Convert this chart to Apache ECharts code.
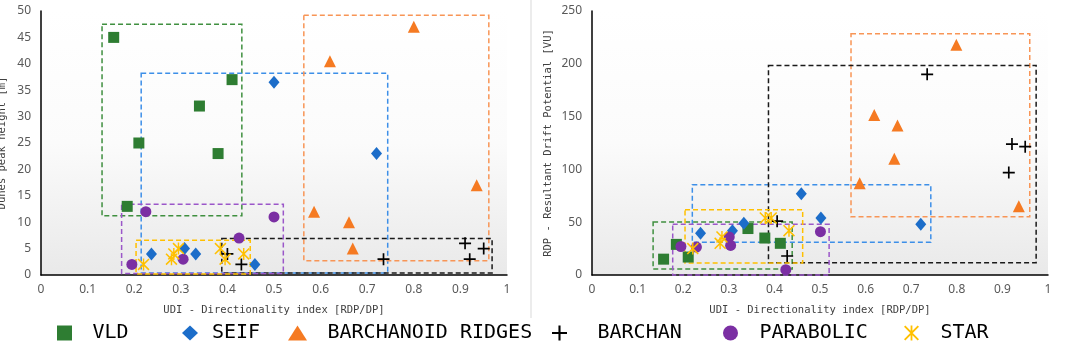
<!DOCTYPE html>
<html>
<head>
<meta charset="utf-8">
<script src="https://cdn.jsdelivr.net/npm/echarts@6/dist/echarts.min.js"></script>
<style>
  html, body { margin: 0; padding: 0; background: #fff; }
  #main { width: 1065px; height: 344px; }
</style>
</head>
<body>
<div id="main"></div>
<script>
// ---- data ----
let seriesNames = ['VLD', 'SEIF', 'BARCHANOID RIDGES', 'BARCHAN', 'PARABOLIC', 'STAR'];
let xTicks = [0, 0.1, 0.2, 0.3, 0.4, 0.5, 0.6, 0.7, 0.8, 0.9, 1];
let heightTicks = [0, 5, 10, 15, 20, 25, 30, 35, 40, 45, 50];
let rdpTicks = [0, 50, 100, 150, 200, 250];

// left panel: UDI vs dunes peak height [m]
let vldUdiH = [0.156, 0.41, 0.34, 0.21, 0.38, 0.185];
let vldHeight = [45, 37, 32, 25, 23, 13];
let seifUdiH = [0.50, 0.72, 0.237, 0.308, 0.332, 0.459];
let seifHeight = [36.5, 23, 4, 5, 4, 2];
let ridgeUdiH = [0.80, 0.62, 0.935, 0.586, 0.661, 0.669];
let ridgeHeight = [47, 40.5, 17, 12, 10, 5];
let barchanUdiH = [0.40, 0.43, 0.735, 0.91, 0.95, 0.92];
let barchanHeight = [4, 2, 3, 6, 5, 3];
let paraUdiH = [0.225, 0.50, 0.425, 0.195, 0.305];
let paraHeight = [12, 11, 7, 2, 3];
let starUdiH = [0.22, 0.28, 0.285, 0.295, 0.385, 0.395, 0.435];
let starHeight = [2, 3, 4, 5, 5, 3, 4];

// right panel: UDI vs RDP [VU]
let vldUdiR = [0.157, 0.185, 0.211, 0.342, 0.379, 0.413];
let vldRdp = [15, 29, 17, 44, 35, 30];
let seifUdiR = [0.238, 0.308, 0.333, 0.459, 0.502, 0.721];
let seifRdp = [39.5, 42, 49, 77, 54, 48];
let ridgeUdiR = [0.799, 0.619, 0.670, 0.663, 0.587, 0.936];
let ridgeRdp = [218, 151.5, 141.5, 110, 87, 65];
let barchanUdiR = [0.735, 0.921, 0.950, 0.914, 0.406, 0.428];
let barchanRdp = [190, 124, 121.5, 97, 51, 18];
let paraUdiR = [0.195, 0.229, 0.301, 0.304, 0.501, 0.425];
let paraRdp = [27, 26.5, 36, 28, 41, 5];
let starUdiR = [0.221, 0.281, 0.285, 0.38, 0.393, 0.432];
let starRdp = [25, 30, 36, 54, 54, 42];

// dashed range boxes [udiMin, udiMax, valueMin, valueMax]
let boxesHeight = [
    [0.131, 0.431, 11.2, 47.5],
    [0.215, 0.744, 0.4, 38.2],
    [0.564, 0.961, 2.7, 49.2],
    [0.388, 0.968, 0.4, 6.9],
    [0.173, 0.52, 0.3, 13.4],
    [0.204, 0.449, 0.2, 6.6]
];
let boxesRdp = [
    [0.134, 0.439, 5.7, 50.2],
    [0.22, 0.743, 31, 85.5],
    [0.568, 0.960, 55.2, 228.5],
    [0.387, 0.974, 11.7, 198.5],
    [0.177, 0.52, 0, 48],
    [0.204, 0.462, 11.4, 61.9]
];

// ---- styles ----
let markerColors = ['#2E7D32', '#1C6DC9', '#F57A22', '#000000', '#7B2FA3', '#FFC000'];
let boxColors = ['#3F8F3F', '#3D8FE8', '#F89556', '#1A1A1A', '#9B57C9', '#FFC000'];
let plusPath = 'path://M4.3,0 L5.7,0 L5.7,4.3 L10,4.3 L10,5.7 L5.7,5.7 L5.7,10 L4.3,10 L4.3,5.7 L0,5.7 L0,4.3 L4.3,4.3 Z';
let starPath = 'path://M0,0.9 L0.9,0 L10,9.1 L9.1,10 Z M9.1,0 L10,0.9 L0.9,10 L0,9.1 Z M4.4,0 L5.6,0 L5.6,10 L4.4,10 Z';
let symbols = ['rect', 'diamond', 'triangle', plusPath, 'circle', starPath];
let symbolSizes = [11, [11, 13], 12, 12, 11, 12];
// legend icons as paths so they keep their aspect ratio
let legendIcons = [
    'path://M0,0 L10,0 L10,10 L0,10 Z',
    'path://M8,0 L16,7.5 L8,15 L0,7.5 Z',
    'path://M9.5,0 L19,15 L0,15 Z',
    plusPath,
    'path://M5,0 A5,5 0 1,1 4.99,0 Z',
    starPath
];
let legendLefts = [52, 177, 283, 547, 718, 899];
let legendWidths = [46, 34, 50, 66, 48, 48];
let monoFont = '"DejaVu Sans Mono", monospace';

function zip(xs, ys) {
    return xs.map((x, i) => [x, ys[i]]);
}

let leftData = [
    zip(vldUdiH, vldHeight), zip(seifUdiH, seifHeight), zip(ridgeUdiH, ridgeHeight),
    zip(barchanUdiH, barchanHeight), zip(paraUdiH, paraHeight), zip(starUdiH, starHeight)
];
let rightData = [
    zip(vldUdiR, vldRdp), zip(seifUdiR, seifRdp), zip(ridgeUdiR, ridgeRdp),
    zip(barchanUdiR, barchanRdp), zip(paraUdiR, paraRdp), zip(starUdiR, starRdp)
];

function makeSeries(idx, data, box, axisIndex) {
    return {
        name: seriesNames[idx],
        type: 'scatter',
        xAxisIndex: axisIndex,
        yAxisIndex: axisIndex,
        symbol: symbols[idx],
        symbolSize: symbolSizes[idx],
        itemStyle: { color: markerColors[idx], opacity: 1 },
        emphasis: { disabled: true },
        data: data,
        markArea: { //范围虚线框
            silent: true,
            itemStyle: {
                color: 'transparent',
                borderColor: boxColors[idx],
                borderWidth: 1.5,
                borderType: [5, 3]
            },
            emphasis: { disabled: true },
            label: { show: false },
            data: [[{ coord: [box[0], box[3]] }, { coord: [box[1], box[2]] }]]
        }
    };
}

let series = [];
for (let i = 0; i < seriesNames.length; i++) {
    series.push(makeSeries(i, leftData[i], boxesHeight[i], 0));
    series.push(makeSeries(i, rightData[i], boxesRdp[i], 1));
}

// one legend per item so spacing follows the picture
let legends = seriesNames.map((name, i) => ({
    data: [{ name: name, icon: legendIcons[i] }],
    left: legendLefts[i],
    top: 318,
    itemWidth: legendWidths[i],
    itemHeight: 15,
    symbolKeepAspect: true,
    selectedMode: false,
    textStyle: { fontFamily: monoFont, fontSize: 20, color: '#000' }
}));

let plotBg = new echarts.graphic.LinearGradient(0, 0, 0, 1, [
    { offset: 0, color: '#ffffff' },
    { offset: 0.5, color: '#fbfbfb' },
    { offset: 1, color: '#e9e9e9' }
]);

function xAxisDef(gridIndex) {
    return {
        type: 'value',
        gridIndex: gridIndex,
        min: xTicks[0],
        max: xTicks[xTicks.length - 1],
        interval: xTicks[1] - xTicks[0],
        name: 'UDI - Directionality index [RDP/DP]',
        nameLocation: 'middle',
        nameGap: 30,
        nameTextStyle: { fontFamily: monoFont, fontSize: 10.5, color: '#404040' },
        axisLine: { show: true, lineStyle: { color: '#000', width: 1.5 } },
        axisTick: { show: false },
        splitLine: { show: false },
        axisLabel: { margin: 9, color: '#595959', fontFamily: '"Noto Sans", sans-serif', fontSize: 12 }
    };
}

function yAxisDef(gridIndex, ticks, name, gap) {
    return {
        type: 'value',
        gridIndex: gridIndex,
        min: ticks[0],
        max: ticks[ticks.length - 1],
        interval: ticks[1] - ticks[0],
        name: name,
        nameLocation: 'middle',
        nameGap: gap,
        nameTextStyle: { fontFamily: monoFont, fontSize: 10.5, color: '#404040' },
        axisLine: { show: true, lineStyle: { color: '#000', width: 1.5 } },
        axisTick: { show: false },
        splitLine: { show: false },
        axisLabel: { margin: 10, color: '#595959', fontFamily: '"Noto Sans", sans-serif', fontSize: 12 }
    };
}

let myChart = echarts.init(document.getElementById('main'));
let option = {
    animation: false,
    backgroundColor: '#ffffff',
    grid: [
        { left: 41, right: 558, top: 11, bottom: 69, show: true, backgroundColor: plotBg, borderWidth: 0, outerBoundsMode: 'none' },
        { left: 592, right: 17, top: 11, bottom: 69, show: true, backgroundColor: plotBg, borderWidth: 0, outerBoundsMode: 'none' }
    ],
    xAxis: [xAxisDef(0), xAxisDef(1)],
    yAxis: [
        yAxisDef(0, heightTicks, 'Dunes peak height [m]', 33),
        yAxisDef(1, rdpTicks, 'RDP - Resultant Drift Potential [VU]', 38)
    ],
    legend: legends,
    graphic: [{ //两图之间的分隔线
        type: 'line',
        shape: { x1: 531, y1: 0, x2: 531, y2: 318 },
        style: { stroke: '#d9d9d9', lineWidth: 1 },
        silent: true
    }],
    series: series
};
myChart.setOption(option);
</script>
</body>
</html>
